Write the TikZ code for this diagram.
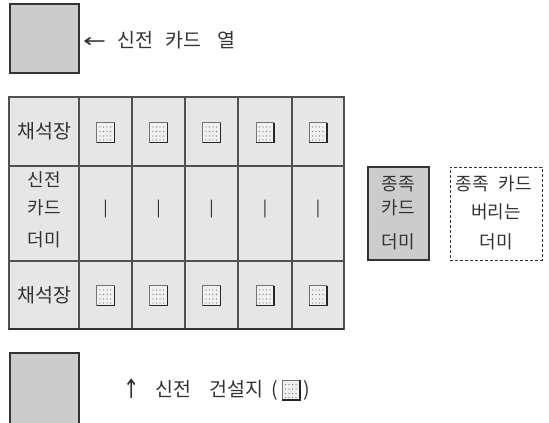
\documentclass[tikz,border=0pt]{standalone}
\usepackage{fontspec}
\usepackage{graphicx}
\newfontfamily\kr{Noto Sans CJK KR}
\newfontfamily\arr{DejaVu Sans}
\definecolor{boxgray}{HTML}{CCCCCC}
\definecolor{cellgray}{HTML}{E6E6E6}
\definecolor{gridline}{HTML}{505050}
\definecolor{txt}{HTML}{333333}
\begin{document}
\begin{tikzpicture}[x=1pt,y=-1pt,
  bigbox/.style={draw=black!80, fill=boxgray, line width=1.2pt},
  lbl/.style={font=\kr\fontsize{18}{21}\selectfont, text=txt, inner sep=0pt},
  leglbl/.style={font=\kr\fontsize{19.5}{22}\selectfont, text=txt, inner sep=0pt},
  biglbl/.style={font=\kr\fontsize{19.5}{22}\selectfont, text=txt, inner sep=0pt},
  barlbl/.style={font=\kr\fontsize{16}{18}\selectfont, text=black!85, inner sep=0pt},
  site/.pic={
    \fill[black!6] (-9,-10) rectangle (9,10);
    \foreach \i in {-5.5,-2,1.5,5} \foreach \j in {-5.5,-1,3.5,7.5}
      \fill[black!55] (\i,\j) circle (0.55);
    \draw[black!55, line width=0.8pt] (-9,10) -- (-9,-10) -- (9,-10);
    \draw[black!85, line width=1.4pt] (9,-10) -- (9,10) -- (-9,10);
  }]
\useasboundingbox (0,0) rectangle (549,423);
\clip (0,0) rectangle (549,423);
\fill[white] (0,0) rectangle (549,423);

% top card column box
\node[bigbox, minimum width=69pt, minimum height=69pt, inner sep=0pt] (topbox) at (44.5,38.5) {};
\node[leglbl, anchor=west] (toplbl) at (83,40) {{\arr\fontsize{19}{19}\selectfont\scalebox{1.45}[1]{←}}\hspace{11pt}신전\hspace{12pt}카드\hspace{16pt}열};

% table
\fill[cellgray] (9,97) rectangle (344,329);
\foreach \x in {79,132,185,238,292}
  \draw[gridline, line width=1.3pt] (\x,97) -- (\x,329);
\foreach \y in {166,261}
  \draw[gridline, line width=1.3pt] (9,\y) -- (344,\y);
\draw[gridline, line width=1.3pt] (9,97) rectangle (344,329);
\draw[black!80, line width=1.8pt] (9,329) -- (344,329);

\node[biglbl] (q1) at (44.5,131) {채석장};
\node[biglbl] (q2) at (44.5,295) {채석장};
\node[lbl] (d1) at (44,180) {신전};
\node[lbl] (d2) at (44,208) {카드};
\node[lbl] (d3) at (44,240) {더미};

\foreach \x [count=\k] in {105.5,158.5,211.5,265,318} {
  \pic at (\x,132.5) {site};
  \pic at (\x,295.5) {site};
  \node[barlbl] (bar\k) at (\x,209) {|};
}

% tribe card deck
\node[bigbox, minimum width=61pt, minimum height=93pt, inner sep=0pt] (deck) at (398.5,213.5) {};
\node[lbl] (dk1) at (398.5,184) {종족};
\node[lbl] (dk2) at (398.5,208) {카드};
\node[lbl] (dk3) at (398.5,242) {더미};

% discard pile
\node[draw=black!80, line width=1pt, dash pattern=on 3pt off 2pt, minimum width=92pt, minimum height=93pt, inner sep=0pt] (disc) at (496,213.5) {};
\node[lbl] (ds1) at (494,184) {종족\hspace{10pt}카드};
\node[lbl] (ds2) at (496,212) {버리는};
\node[lbl] (ds3) at (496,242) {더미};

% bottom box and legend
\draw[black!80, fill=boxgray, line width=1.2pt] (10,440) -- (10,353) -- (79,353) -- (79,440);
\node[leglbl, anchor=west] (leg) at (123,390) {{\arr\raisebox{-2pt}{\scalebox{1}[1.35]{↑}}}\hspace{16pt}신전\hspace{18pt}건설지\hspace{8pt}(};
\pic at ([xshift=13pt]leg.east) {site};
\node[leglbl, anchor=west] (legc) at ([xshift=25pt]leg.east) {)};
\end{tikzpicture}
\end{document}
